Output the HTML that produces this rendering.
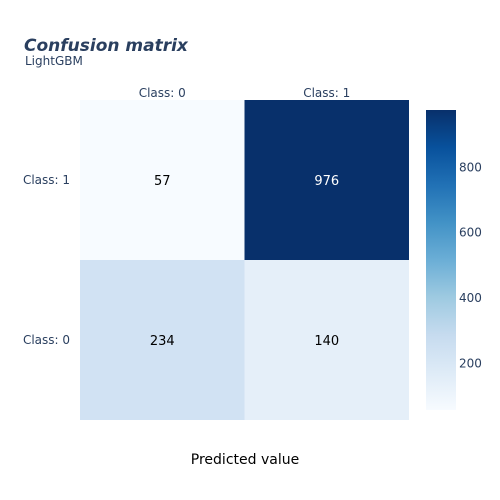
<!DOCTYPE html>
<html><head><meta charset="utf-8"><style>
body{margin:0;background:#fff}
svg{display:block;font-family:"DejaVu Sans","Liberation Sans",sans-serif}
</style></head><body>
<svg id="chart" width="500" height="500">
<defs><linearGradient id="blues" x1="0" y1="1" x2="0" y2="0">
<stop offset="0" stop-color="rgb(247,251,255)"/><stop offset="0.125" stop-color="rgb(222,235,247)"/>
<stop offset="0.25" stop-color="rgb(198,219,239)"/><stop offset="0.375" stop-color="rgb(158,202,225)"/>
<stop offset="0.5" stop-color="rgb(107,174,214)"/><stop offset="0.625" stop-color="rgb(66,146,198)"/>
<stop offset="0.75" stop-color="rgb(33,113,181)"/><stop offset="0.875" stop-color="rgb(8,81,156)"/>
<stop offset="1" stop-color="rgb(8,48,107)"/></linearGradient></defs>
<text x="24" y="51" font-size="17" font-weight="bold" font-style="italic" fill="#2a3f5f">Confusion matrix</text>
<text x="25" y="65" font-size="12" fill="#2a3f5f">LightGBM</text>
<text x="245" y="464" font-size="14" fill="#000" text-anchor="middle">Predicted value</text>
<g id="cells"></g>
<rect x="426" y="110" width="30" height="300" fill="url(#blues)"/>
<g id="cbticks"></g>
</svg>
<script>
const xCats=["Class: 0","Class: 1"];
const yCats=["Class: 1","Class: 0"];
const row0=[57,976];
const row1=[234,140];
const cbTicks=[200,400,600,800];
const rows=[row0,row1];
const all=row0.concat(row1);
const zmin=Math.min(...all), zmax=Math.max(...all);
const X0=80,X1=409,Y0=100,Y1=420;
const cw=(X1-X0)/xCats.length, ch=(Y1-Y0)/yCats.length;
const stops=[[247,251,255],[222,235,247],[198,219,239],[158,202,225],[107,174,214],[66,146,198],[33,113,181],[8,81,156],[8,48,107]];
function color(v){let t=(v-zmin)/(zmax-zmin);t=Math.max(0,Math.min(1,t))*8;let i=Math.min(7,Math.floor(t)),f=t-i;
const a=stops[i],b=stops[i+1];return `rgb(${a.map((c,k)=>Math.round(c+(b[k]-c)*f)).join(',')})`;}
const ns="http://www.w3.org/2000/svg";
const g=document.getElementById('cells'),cb=document.getElementById('cbticks');
function mk(tag,attrs,parent,txt){const e=document.createElementNS(ns,tag);for(const k in attrs)e.setAttribute(k,attrs[k]);if(txt!==undefined)e.textContent=txt;parent.appendChild(e);return e;}
rows.forEach((r,ri)=>r.forEach((v,ci)=>{
 const rc=mk('rect',{x:X0+ci*cw,y:Y0+ri*ch,width:cw,height:ch,fill:color(v)},g);
 
 
 const t=mk('text',{x:X0+(ci+0.5)*cw,y:Y0+(ri+0.5)*ch+5,'font-size':13,'text-anchor':'middle',fill:(v-zmin)/(zmax-zmin)>0.5?'#fff':'#000'},g,String(v));
 
 
}));
xCats.forEach((c,i)=>{const t=mk('text',{x:X0+(i+0.5)*cw,y:97,'font-size':12,'text-anchor':'middle',fill:'#2a3f5f'},g,c);
 
 });
yCats.forEach((c,i)=>{const t=mk('text',{x:70,y:Y0+(i+0.5)*ch+4,'font-size':12,'text-anchor':'end',fill:'#2a3f5f'},g,c);
 
 });
const CB0=410,CB1=110;
cbTicks.forEach(v=>{const y=CB0-(v-zmin)/(zmax-zmin)*(CB0-CB1);
 const t=mk('text',{x:459,y:y+4,'font-size':12,fill:'#2a3f5f'},cb,String(v));
 
 });
</script>
</body></html>
